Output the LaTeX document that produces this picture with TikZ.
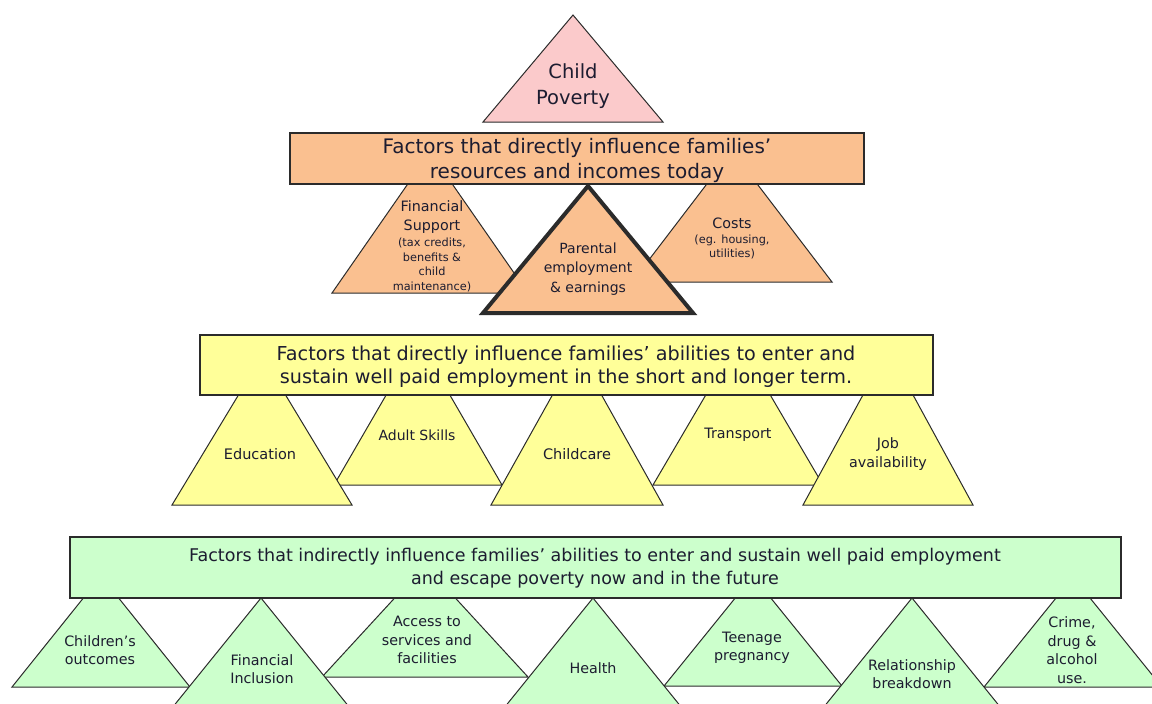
\documentclass[tikz,border=0pt]{standalone}
\usepackage{fontspec}
\setmainfont{DejaVu Sans}
\usepackage{tikz}
\usetikzlibrary{positioning}
\definecolor{povpink}{HTML}{FBCACB}
\definecolor{incpeach}{HTML}{FAC090}
\definecolor{empyellow}{HTML}{FFFF99}
\definecolor{indgreen}{HTML}{CCFFCC}
\definecolor{edgegray}{HTML}{2B2B2B}
\definecolor{ink}{HTML}{1C1C30}

\begin{document}
\begin{tikzpicture}[x=1pt, y=-1pt,
    tri/.style={draw=edgegray, line width=1pt, line join=miter},
    bar/.style={draw=edgegray, line width=1.4pt},
    lbl/.style={align=center, inner sep=0pt, text=ink},
    big/.style={lbl, font=\fontsize{20}{25}\selectfont},
    mid/.style={lbl, font=\fontsize{14.5}{19}\selectfont},
    small/.style={lbl, font=\fontsize{14.3}{18.5}\selectfont},
    tiny/.style={lbl, font=\fontsize{11.3}{14.7}\selectfont}]
            \useasboundingbox (0,0) rectangle (1152,704);
            \clip (0,0) rectangle (1152,704);

            \draw[tri, fill=povpink] (573,15) -- (663,122) -- (483,122) -- cycle;
            \node[lbl, font=\fontsize{19.5}{26}\selectfont] (pov) at (573,86) {Child\\Poverty};

            \draw[tri, fill=incpeach] (430,152) -- (528,293) -- (332,293) -- cycle;
            \draw[tri, fill=incpeach] (732,151) -- (832,282) -- (632,282) -- cycle;
            \draw[bar, fill=incpeach] (290,133) rectangle (864,184);
            \draw[tri, line width=4pt, fill=incpeach] (588,186) -- (693,313) -- (483,313) -- cycle;
            \node[big] (inc) at (577,160) {Factors that directly influence families'\\resources and incomes today};
            \node[small] (fin) at (432,217) {Financial\\Support};
            \node[tiny] (finnote) at (432,265) {(tax credits,\\benefits \&\\child\\maintenance)};
            \node[small] (cost) at (732,223) {Costs};
            \node[tiny] (costnote) at (732,247) {(eg. housing,\\utilities)};
            \node[mid, font=\fontsize{14}{19.5}\selectfont] (par) at (588,269) {Parental\\employment\\\& earnings};

            \draw[tri, fill=empyellow] (418,340) -- (502,485) -- (334,485) -- cycle;
            \draw[tri, fill=empyellow] (738,340) -- (823,485) -- (653,485) -- cycle;
            \draw[tri, fill=empyellow] (262,356) -- (352,505) -- (172,505) -- cycle;
            \draw[tri, fill=empyellow] (577,351) -- (663,505) -- (491,505) -- cycle;
            \draw[tri, fill=empyellow] (888,349) -- (973,505) -- (803,505) -- cycle;
            \draw[bar, fill=empyellow] (200,335) rectangle (933,395);
            \node[big, font=\fontsize{19.2}{23}\selectfont] (emp) at (566,367) {Factors that directly influence families' abilities to enter and\\sustain well paid employment in the short and longer term.};
            \node[mid] (edu) at (260,454) {Education};
            \node[small, font=\fontsize{14}{18.5}\selectfont] (adult) at (417,435) {Adult Skills};
            \node[mid] (care) at (577,454) {Childcare};
            \node[small] (trans) at (738,435) {Transport};
            \node[small] (job) at (888,454) {Job\\availability};

            \draw[tri, fill=indgreen] (101,576) -- (190,687) -- (12,687) -- cycle;
            \draw[tri, fill=indgreen] (425,565) -- (528,677) -- (322,677) -- cycle;
            \draw[tri, fill=indgreen] (753,576) -- (842,686) -- (664,686) -- cycle;
            \draw[tri, fill=indgreen] (1073,577) -- (1162,687) -- (984,687) -- cycle;
            \draw[tri, fill=indgreen] (261,598) -- (350,708) -- (172,708) -- cycle;
            \draw[tri, fill=indgreen] (593,598) -- (682,708) -- (504,708) -- cycle;
            \draw[tri, fill=indgreen] (912,598) -- (1001,708) -- (823,708) -- cycle;
            \draw[bar, fill=indgreen] (70,537) rectangle (1121,598);
            \node[big, font=\fontsize{17.5}{23}\selectfont] (ind) at (595,568) {Factors that indirectly influence families' abilities to enter and sustain well paid employment\\and escape poverty now and in the future};
            \node[small] (outc) at (100,650) {Children's\\outcomes};
            \node[small] (incl) at (262,669) {Financial\\Inclusion};
            \node[small] (acc) at (427,640) {Access to\\services and\\facilities};
            \node[small] (health) at (593,668) {Health};
            \node[small] (teen) at (752,648) {Teenage\\pregnancy};
            \node[small] (rel) at (912,674) {Relationship\\breakdown};
            \node[small] (crime) at (1072,650) {Crime,\\drug \&\\alcohol\\use.};
\end{tikzpicture}
\end{document}
